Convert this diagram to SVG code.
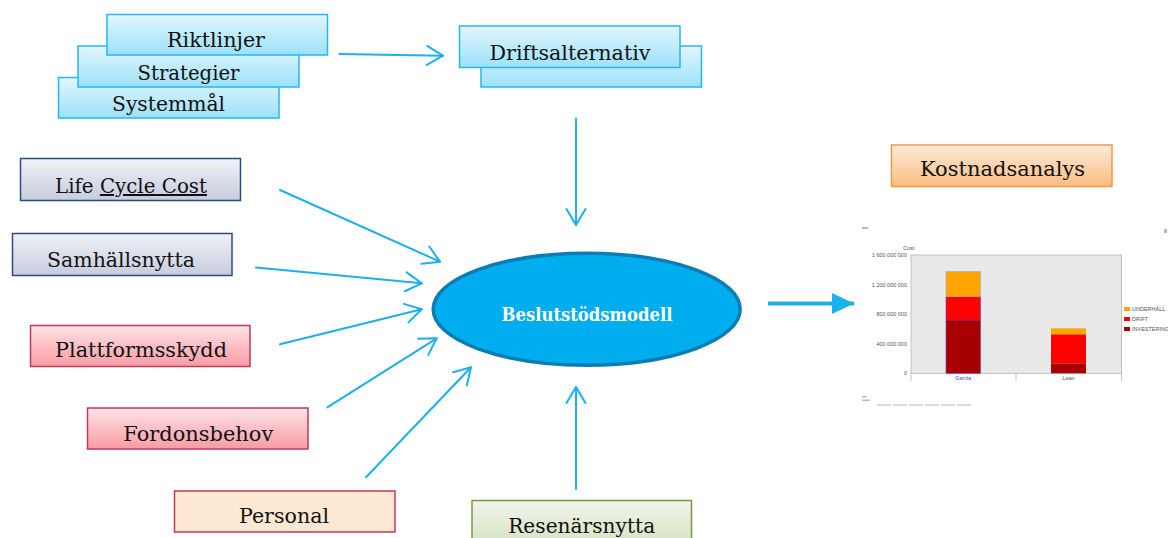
<svg xmlns="http://www.w3.org/2000/svg" width="1168" height="538" viewBox="0 0 1168 538">
<defs>
<linearGradient id="gBlue" x1="0" y1="0" x2="0" y2="1"><stop offset="0" stop-color="#e2f6fd"/><stop offset="1" stop-color="#9de1fa"/></linearGradient>
<linearGradient id="gGrey" x1="0" y1="0" x2="0" y2="1"><stop offset="0" stop-color="#f1f2f7"/><stop offset="1" stop-color="#c6ccde"/></linearGradient>
<linearGradient id="gPink" x1="0" y1="0" x2="0" y2="1"><stop offset="0" stop-color="#fde4e7"/><stop offset="1" stop-color="#f89ba4"/></linearGradient>
<linearGradient id="gGreen" x1="0" y1="0" x2="0" y2="1"><stop offset="0" stop-color="#f1f5ea"/><stop offset="1" stop-color="#d5e2c2"/></linearGradient>
<linearGradient id="gOrange" x1="0" y1="0" x2="0" y2="1"><stop offset="0" stop-color="#feeadb"/><stop offset="1" stop-color="#fbbd80"/></linearGradient>
<marker id="open" markerUnits="userSpaceOnUse" viewBox="-18 -11 20 22" refX="0" refY="0" markerWidth="20" markerHeight="22" orient="auto" overflow="visible">
<path d="M-16,-9.5 L0,0 L-16,9.5" fill="none" stroke="#1cb0ec" stroke-width="2" stroke-linecap="round" stroke-linejoin="round"/>
</marker>
<marker id="solid" markerUnits="userSpaceOnUse" viewBox="-26 -13 28 26" refX="0" refY="0" markerWidth="28" markerHeight="26" orient="auto" overflow="visible">
<path d="M-22,-10.5 L0,0 L-22,10.5 Z" fill="#1cb0ec"/>
</marker>
</defs>
<style>
.lbl{font-family:"DejaVu Serif","Liberation Serif",serif;font-size:20px;fill:#111;text-anchor:middle}
.blue{fill:url(#gBlue);stroke:#25b7ee;stroke-width:1.5}
.grey{fill:url(#gGrey);stroke:#2f4b7c;stroke-width:1.5}
.pink{fill:url(#gPink);stroke:#c2395b;stroke-width:1.5}
.peach{fill:#fde9d3;stroke:#c2395b;stroke-width:1.5}
.green{fill:url(#gGreen);stroke:#7a9644;stroke-width:1.5}
.orange{fill:url(#gOrange);stroke:#f79646;stroke-width:1.5}
.conn{fill:none;stroke:#1cb0ec;stroke-width:2;stroke-linecap:round;marker-end:url(#open)}
.ax{font-family:"Liberation Sans",Arial,sans-serif;font-size:5.5px;fill:#555}
</style>
<rect width="1168" height="538" fill="#ffffff"/>

<g id="systemmal"><rect class="blue" x="58.5" y="77.5" width="220.5" height="40.5"/><text class="lbl" x="168.5" y="111" textLength="113" lengthAdjust="spacingAndGlyphs">Systemmål</text></g>
<g id="strategier"><rect class="blue" x="78" y="46" width="221" height="41"/><text class="lbl" x="188.5" y="80" textLength="102" lengthAdjust="spacingAndGlyphs">Strategier</text></g>
<g id="riktlinjer"><rect class="blue" x="107" y="14.5" width="220.5" height="40.5"/><text class="lbl" x="216" y="47" textLength="98" lengthAdjust="spacingAndGlyphs">Riktlinjer</text></g>

<g id="driftsalternativ"><rect class="blue" x="481" y="46" width="220.5" height="41"/><rect class="blue" x="459.5" y="26" width="220.5" height="41.5"/><text class="lbl" x="570" y="59.5" textLength="161" lengthAdjust="spacingAndGlyphs">Driftsalternativ</text></g>

<g id="lcc"><rect class="grey" x="20.5" y="158.5" width="220" height="42"/><text class="lbl" x="131" y="193" textLength="152" lengthAdjust="spacingAndGlyphs">Life <tspan text-decoration="underline">Cycle Cost</tspan></text></g>
<g id="samhallsnytta"><rect class="grey" x="12.5" y="233.5" width="219.5" height="42"/><text class="lbl" x="121" y="267" textLength="148" lengthAdjust="spacingAndGlyphs">Samhällsnytta</text></g>
<g id="plattformsskydd"><rect class="pink" x="30.5" y="325.5" width="219.5" height="41"/><text class="lbl" x="141" y="356.5" textLength="172" lengthAdjust="spacingAndGlyphs">Plattformsskydd</text></g>
<g id="fordonsbehov"><rect class="pink" x="87.5" y="408" width="220.5" height="41"/><text class="lbl" x="198.3" y="440.5" textLength="150" lengthAdjust="spacingAndGlyphs">Fordonsbehov</text></g>
<g id="personal"><rect class="peach" x="174.5" y="491" width="220.5" height="41"/><text class="lbl" x="284" y="523" textLength="90" lengthAdjust="spacingAndGlyphs">Personal</text></g>
<g id="resenarsnytta"><rect class="green" x="472" y="500.5" width="219.5" height="45"/><text class="lbl" x="581.7" y="533" textLength="147" lengthAdjust="spacingAndGlyphs">Resenärsnytta</text></g>

<g id="beslutstodsmodell"><ellipse cx="586.7" cy="309.2" rx="153.5" ry="56" fill="#00aeef" stroke="#0b7db3" stroke-width="3.5"/><text x="587" y="321" text-anchor="middle" font-family="'DejaVu Serif','Liberation Serif',serif" font-size="18" font-weight="bold" fill="#ffffff" textLength="171" lengthAdjust="spacingAndGlyphs">Beslutstödsmodell</text></g>

<g id="kostnadsanalys"><rect class="orange" x="891.5" y="145" width="220.5" height="41.5"/><text class="lbl" x="1002.5" y="176" textLength="165" lengthAdjust="spacingAndGlyphs">Kostnadsanalys</text></g>

<g id="chart">
<rect x="862" y="227" width="6" height="2" fill="#bbb"/>
<rect x="1164" y="229" width="3" height="4" fill="#bbb"/>
<rect x="911" y="255" width="210.5" height="118.3" fill="#e9e9e9" stroke="#b4b4b4" stroke-width="0.8"/>
<text class="ax" x="903" y="249.5">Cost</text>
<text class="ax" x="907" y="257" text-anchor="end">1 600 000 000</text>
<text class="ax" x="907" y="286.5" text-anchor="end">1 200 000 000</text>
<text class="ax" x="907" y="316" text-anchor="end">800 000 000</text>
<text class="ax" x="907" y="345.5" text-anchor="end">400 000 000</text>
<text class="ax" x="907" y="375" text-anchor="end">0</text>
<path d="M911,373.3 V381 M1016,373.3 V381 M1121.5,373.3 V381" stroke="#b4b4b4" stroke-width="0.8"/>
<rect x="946" y="320" width="34.5" height="53.3" fill="#a80000" stroke="#7a3ca0" stroke-width="0.6"/>
<rect x="946" y="296.7" width="34.5" height="23.3" fill="#ff0000" stroke="#7a3ca0" stroke-width="0.6"/>
<rect x="946" y="271.5" width="34.5" height="25.2" fill="#ffa500" stroke="#b5a0c8" stroke-width="0.6"/>
<rect x="1051" y="363.3" width="35" height="10" fill="#a80000"/>
<rect x="1051" y="334.3" width="35" height="29" fill="#ff0000"/>
<rect x="1051" y="328.3" width="35" height="6" fill="#ffa500"/>
<text class="ax" x="963" y="379.5" text-anchor="middle" style="fill:#4a4aff">Gamla</text>
<text class="ax" x="1068.5" y="379.5" text-anchor="middle">Lean</text>
<rect x="1124" y="307" width="6" height="4" fill="#ffa500"/>
<rect x="1124" y="317" width="6" height="4" fill="#ff0000"/>
<rect x="1124" y="327" width="6" height="4" fill="#a80000"/>
<text class="ax" x="1132" y="311">UNDERHÅLL</text>
<text class="ax" x="1132" y="321">DRIFT</text>
<text class="ax" x="1132" y="331">INVESTERING</text>
<rect x="862" y="396" width="5" height="1.5" fill="#bbb"/>
<rect x="862" y="399.5" width="8" height="1.5" fill="#bbb"/>
<path d="M877,405 H973" stroke="#cfcfcf" stroke-width="1.5" stroke-dasharray="14,2"/>
</g>

<g id="connectors">
<path class="conn" d="M339.5,54 L443,55.7"/>
<path class="conn" d="M576,118.5 V225"/>
<path class="conn" d="M280,190 L440,261.7"/>
<path class="conn" d="M256,267.5 L421.7,283.3"/>
<path class="conn" d="M280,344.3 L421.7,309.3"/>
<path class="conn" d="M327.3,407.3 L436.7,338.3"/>
<path class="conn" d="M366,477.3 L471,367.3"/>
<path class="conn" d="M576,489 V387"/>
<path d="M768,303.5 H854" fill="none" stroke="#1cb0ec" stroke-width="4" marker-end="url(#solid)"/>
</g>
</svg>
